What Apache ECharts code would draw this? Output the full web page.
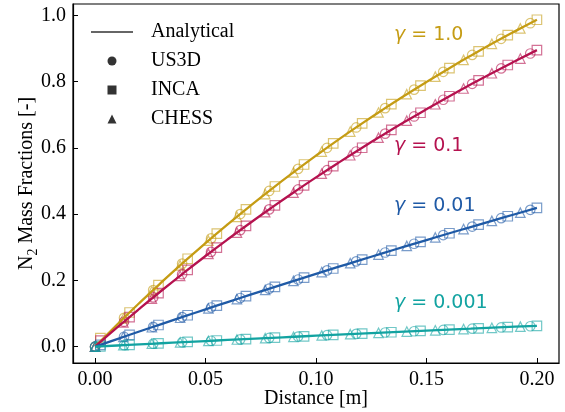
<!DOCTYPE html>
<html>
<head>
<meta charset="utf-8">
<script src="https://cdn.jsdelivr.net/npm/echarts@6/dist/echarts.min.js"></script>
<style>html,body{margin:0;padding:0;background:#fff}#c{width:565px;height:412px}</style>
</head>
<body>
<div id="c"></div>
<script>
// ---- data ----
const gammaLabels = ['γ = 1.0', 'γ = 0.1', 'γ = 0.01', 'γ = 0.001'];
const colors = ['#C59C14', '#B5124F', '#1F5AA6', '#12A3A1'];

const xTicks = [0, 0.05, 0.10, 0.15, 0.20];
const yTicks = [0, 0.2, 0.4, 0.6, 0.8, 1.0];

// analytical curves
const xAnalytical = [0,0.01,0.02,0.03,0.04,0.05,0.06,0.07,0.08,0.09,0.10,0.11,0.12,0.13,0.14,0.15,0.16,0.17,0.18,0.19,0.20];
const analytical_g1    = [0,0.0669,0.1315,0.1939,0.2543,0.3127,0.3691,0.4236,0.4763,0.5272,0.5765,0.6241,0.6700,0.7145,0.7575,0.7990,0.8392,0.8780,0.9155,0.9517,0.9868];
const analytical_g01   = [0,0.0579,0.1141,0.1688,0.2219,0.2736,0.3238,0.3726,0.4200,0.4661,0.5109,0.5544,0.5967,0.6378,0.6778,0.7166,0.7544,0.7910,0.8267,0.8613,0.8950];
const analytical_g001  = [0,0.0230,0.0457,0.0683,0.0906,0.1127,0.1345,0.1562,0.1776,0.1988,0.2198,0.2406,0.2612,0.2816,0.3018,0.3218,0.3416,0.3611,0.3805,0.3997,0.4187];
const analytical_g0001 = [0,0.0035,0.0069,0.0103,0.0136,0.0170,0.0202,0.0235,0.0267,0.0299,0.0331,0.0362,0.0393,0.0424,0.0454,0.0484,0.0514,0.0543,0.0573,0.0602,0.0630];

// US3D (circles)
const xUS3D = [0,0.0131,0.0263,0.0394,0.0525,0.0657,0.0788,0.0919,0.1050,0.1182,0.1313,0.1444,0.1576,0.1707,0.1838,0.1970];
const us3d_g1    = [0,0.0869,0.1708,0.2507,0.3268,0.4002,0.4700,0.5366,0.6003,0.6617,0.7201,0.7758,0.8296,0.8806,0.9293,0.9763];
const us3d_g01   = [0,0.0753,0.1486,0.2187,0.2862,0.3516,0.4143,0.4746,0.5327,0.5891,0.6430,0.6949,0.7453,0.7935,0.8398,0.8849];
const us3d_g001  = [0,0.0300,0.0599,0.0893,0.1182,0.1469,0.1750,0.2028,0.2302,0.2575,0.2842,0.3106,0.3368,0.3625,0.3878,0.4130];
const us3d_g0001 = [0,0.0045,0.0090,0.0134,0.0178,0.0221,0.0263,0.0305,0.0347,0.0387,0.0427,0.0466,0.0505,0.0543,0.0580,0.0617];

// INCA (squares)
const xINCA = [0.0024,0.0156,0.0287,0.0419,0.0551,0.0683,0.0814,0.0946,0.1078,0.1209,0.1341,0.1473,0.1604,0.1736,0.1868,0.2000];
const inca_g1    = [0.026,0.1031,0.1858,0.2654,0.3415,0.4143,0.4834,0.5499,0.6136,0.6740,0.7321,0.7878,0.8408,0.8915,0.9401,0.9868];
const inca_g01   = [0.018,0.0894,0.1617,0.2317,0.2992,0.3643,0.4265,0.4867,0.5448,0.6004,0.6542,0.7061,0.7559,0.8039,0.8502,0.8950];
const inca_g001  = [0.0055,0.0357,0.0654,0.0948,0.1238,0.1525,0.1806,0.2085,0.2360,0.2630,0.2899,0.3164,0.3424,0.3681,0.3936,0.4187];
const inca_g0001 = [0.0008,0.0054,0.0098,0.0143,0.0186,0.0229,0.0271,0.0313,0.0354,0.0395,0.0435,0.0474,0.0513,0.0551,0.0589,0.0626];

// CHESS (triangles)
const xCHESS = [0,0.0128,0.0257,0.0385,0.0513,0.0642,0.0770,0.0898,0.1026,0.1155,0.1283,0.1411,0.1540,0.1668,0.1796,0.1925];
const chess_g1    = [0,0.0850,0.1671,0.2452,0.3200,0.3920,0.4605,0.5262,0.5889,0.6493,0.7069,0.7621,0.8151,0.8656,0.9140,0.9605];
const chess_g01   = [0,0.0736,0.1453,0.2139,0.2801,0.3443,0.4058,0.4652,0.5222,0.5777,0.6308,0.6821,0.7317,0.7793,0.8253,0.8697];
const chess_g001  = [0,0.0294,0.0586,0.0873,0.1155,0.1436,0.1712,0.1984,0.2252,0.2519,0.2781,0.3040,0.3297,0.3549,0.3797,0.4045];
const chess_g0001 = [0,0.0044,0.0088,0.0131,0.0174,0.0216,0.0257,0.0298,0.0338,0.0378,0.0417,0.0456,0.0494,0.0532,0.0568,0.0605];

// ---- build ----
const pair = (xs, ys) => xs.map((x, i) => [x, ys[i]]);
const analytical = [analytical_g1, analytical_g01, analytical_g001, analytical_g0001];
const us3d = [us3d_g1, us3d_g01, us3d_g001, us3d_g0001];
const inca = [inca_g1, inca_g01, inca_g001, inca_g0001];
const chess = [chess_g1, chess_g01, chess_g001, chess_g0001];

const serif = 'Liberation Serif';
const series = [];
function hexA(hex, a) {
  const n = parseInt(hex.slice(1), 16);
  return 'rgba(' + (n >> 16) + ',' + ((n >> 8) & 255) + ',' + (n & 255) + ',' + a + ')';
}
for (let g = 0; g < 4; g++) {
  const col = colors[g];
  const mk = (name, xs, ys, sym, size) => ({
    name: name + '_' + g, type: 'scatter', data: pair(xs, ys), symbol: sym, symbolSize: size,
    itemStyle: { color: 'rgba(0,0,0,0)', borderColor: hexA(col, 0.75), borderWidth: 1.2 },
    z: 2, silent: true
  });
  series.push(mk('US3D', xUS3D, us3d[g], 'circle', 9.5));
  series.push(mk('INCA', xINCA, inca[g], 'rect', 9.5));
  series.push(mk('CHESS', xCHESS, chess[g], 'triangle', 9.5));
  series.push({
    name: 'Analytical_' + g, type: 'line', data: pair(xAnalytical, analytical[g]),
    showSymbol: false, symbol: 'none', smooth: true,
    lineStyle: { color: col, width: 2.3 }, z: 3, silent: true
  });
}
// legend proxies (empty)
series.push({ name: 'Analytical', type: 'scatter', data: [], symbol: 'rect', itemStyle: { color: '#000' } });
series.push({ name: 'US3D', type: 'scatter', data: [], symbol: 'circle', itemStyle: { color: '#000' } });
series.push({ name: 'INCA', type: 'scatter', data: [], symbol: 'rect', itemStyle: { color: '#000' } });
series.push({ name: 'CHESS', type: 'scatter', data: [], symbol: 'triangle', itemStyle: { color: '#000' } });

const labelYs = [37.5, 149, 209, 305.5];
const graphic = gammaLabels.map((t, i) => ({
  type: 'text', left: 394, top: labelYs[i] - 12, z: 10,
  style: {
    text: '{g|γ}' + t.slice(1),
    fill: colors[i], font: '19px "DejaVu Sans"',
    rich: { g: { fontStyle: 'italic', fontFamily: 'DejaVu Sans', fontSize: 19, fill: colors[i] } }
  }
}));

const legendText = (padLeft) => ({ fontFamily: serif, fontSize: 20, color: '#000', lineHeight: 20, padding: [0, 0, 0, padLeft] });

const chart = echarts.init(document.getElementById('c'), null, { renderer: 'canvas' });
chart.setOption({
  backgroundColor: '#fff',
  animation: false,
  grid: { left: 73, right: 6, top: 4, bottom: 49, show: true, borderColor: '#000', borderWidth: 1.2, backgroundColor: 'transparent', containLabel: false, outerBoundsMode: 'none' },
  xAxis: {
    type: 'value', min: -0.01, max: 0.21,
    name: 'Distance [m]', nameLocation: 'middle', nameGap: 26, nameMoveOverlap: false,
    nameTextStyle: { fontFamily: serif, fontSize: 20, color: '#000' },
    axisLine: { show: true, onZero: false, lineStyle: { color: '#000', width: 1.2 } },
    axisTick: { show: true, inside: true, length: 5, customValues: xTicks, lineStyle: { color: '#000', width: 1 } },
    axisLabel: { customValues: xTicks, fontFamily: serif, fontSize: 20, color: '#000', margin: 7, formatter: v => v.toFixed(2) },
    splitLine: { show: false }
  },
  yAxis: {
    type: 'value', min: -0.0493, max: 1.0343,
    name: '{m|N}{s|2}{m| Mass Fractions [-]}', nameLocation: 'middle', nameGap: 36, nameMoveOverlap: false,
    nameTextStyle: {
      fontFamily: serif, fontSize: 20, color: '#000',
      rich: {
        m: { fontFamily: serif, fontSize: 20, color: '#000', lineHeight: 24, verticalAlign: 'bottom' },
        s: { fontFamily: serif, fontSize: 14, color: '#000', lineHeight: 14, verticalAlign: 'bottom', padding: [0, 0, -3, 0] }
      }
    },
    axisLine: { show: true, onZero: false, lineStyle: { color: '#000', width: 1.2 } },
    axisTick: { show: true, inside: true, length: 5, customValues: yTicks, lineStyle: { color: '#000', width: 1 } },
    axisLabel: { customValues: yTicks, fontFamily: serif, fontSize: 20, color: '#000', margin: 7, formatter: v => v.toFixed(1) },
    splitLine: { show: false }
  },
  legend: [
    {
      data: [{ name: 'Analytical', icon: 'rect' }],
      orient: 'vertical', left: 91, top: 22, padding: 0,
      itemWidth: 42, itemHeight: 1.5, symbolKeepAspect: false,
      textStyle: legendText(13), selectedMode: false
    },
    {
      data: [{ name: 'US3D', icon: 'circle' }, { name: 'INCA', icon: 'rect' }, { name: 'CHESS', icon: 'triangle' }],
      orient: 'vertical', left: 107.5, top: 51, padding: 0,
      itemWidth: 9, itemHeight: 9, itemGap: 9, symbolKeepAspect: true,
      textStyle: legendText(29.5), selectedMode: false
    }
  ],
  graphic: graphic,
  series: series
});
</script>
</body>
</html>
